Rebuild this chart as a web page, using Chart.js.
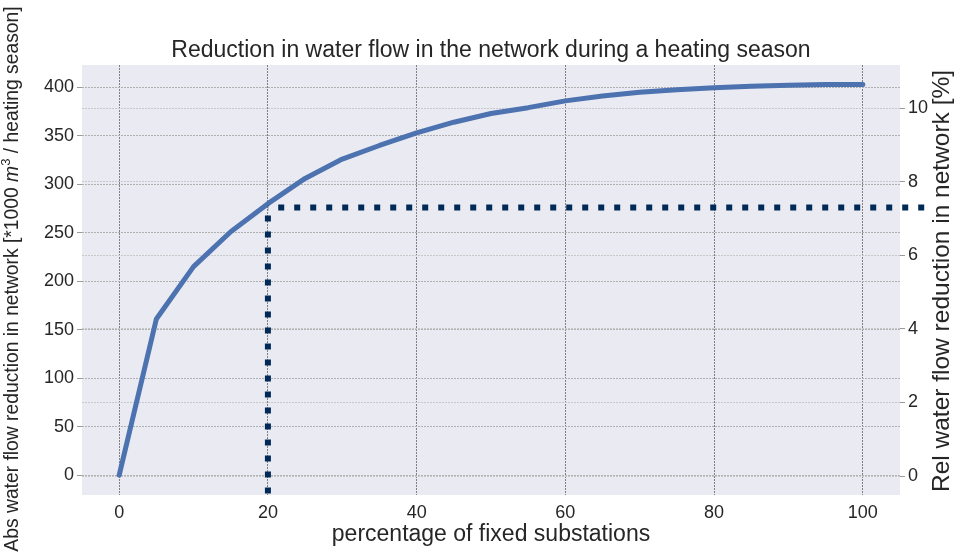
<!DOCTYPE html>
<html>
<head>
<meta charset="utf-8">
<script src="https://cdn.jsdelivr.net/npm/chart.js@4/dist/chart.umd.min.js"></script>
<style>
  html, body { margin: 0; padding: 0; background: #ffffff; }
  #wrap { width: 961px; height: 557px; position: relative; }
</style>
</head>
<body>
<div id="wrap"><canvas id="c" width="961" height="557"></canvas></div>
<script>
// Share of substations fixed (%) and the resulting absolute flow reduction
const fixedShare = [0, 5, 10, 15, 20, 25, 30, 35, 40, 45, 50, 55, 60, 65, 70, 75, 80, 85, 90, 95, 100];
const absReduction = [0, 161, 215, 251, 280, 306, 326, 340, 353, 364, 373, 379, 386, 391, 395, 397.5, 399.5, 401, 402, 403, 403];

// Marker at 20 % fixed substations, on the relative (%) axis
const markerShare = 20;
const markerRel = 7.3;
const markerLineEnd = 108.5;

// Tick values
const xTicks = [0, 20, 40, 60, 80, 100];
const yTicks = [0, 50, 100, 150, 200, 250, 300, 350, 400];
const y2Ticks = [0, 2, 4, 6, 8, 10];

const FONT = "'Liberation Sans', Arial, Helvetica, sans-serif";
const TEXT = '#262626';

const plotBackground = {
  id: 'plotBackground',
  beforeDraw(chart) {
    const { ctx, chartArea: a } = chart;
    ctx.save();
    ctx.fillStyle = '#eaeaf2';
    ctx.fillRect(a.left, a.top, a.right - a.left, a.bottom - a.top);
    ctx.restore();
  }
};

const labels = {
  id: 'labels',
  afterDraw(chart) {
    const { ctx, chartArea: a } = chart;
    ctx.save();
    ctx.fillStyle = TEXT;
    ctx.textBaseline = 'middle';
    ctx.textAlign = 'center';

    // title
    ctx.font = `23px ${FONT}`;
    ctx.fillText('Reduction in water flow in the network during a heating season', (a.left + a.right) / 2, 51);

    // x axis label
    ctx.font = `23px ${FONT}`;
    ctx.fillText('percentage of fixed substations', (a.left + a.right) / 2, 535);

    // right axis label
    ctx.save();
    ctx.translate(942, 281);
    ctx.rotate(-Math.PI / 2);
    ctx.font = `24.5px ${FONT}`;
    ctx.fillText('Rel water flow reduction in network [%]', 0, 0);
    ctx.restore();

    // left axis label, with italic m and superscript 3
    ctx.save();
    ctx.translate(13, 279);
    ctx.rotate(-Math.PI / 2);
    const parts = [
      { t: 'Abs water flow reduction in network [*1000 ', f: `19.3px ${FONT}`, dy: 0 },
      { t: 'm', f: `italic 19.3px ${FONT}`, dy: 0 },
      { t: '3', f: `13px ${FONT}`, dy: -7 },
      { t: ' / heating season]', f: `19.3px ${FONT}`, dy: 0 }
    ];
    let total = 0;
    parts.forEach(p => { ctx.font = p.f; p.w = ctx.measureText(p.t).width; total += p.w; });
    ctx.textAlign = 'left';
    let x = -total / 2;
    parts.forEach(p => { ctx.font = p.f; ctx.fillText(p.t, x, p.dy); x += p.w; });
    ctx.restore();

    ctx.restore();
  }
};

const tickFont = { family: FONT, size: 18 };

new Chart(document.getElementById('c'), {
  type: 'line',
  data: {
    datasets: [
      {
        label: 'abs',
        data: fixedShare.map((x, i) => ({ x, y: absReduction[i] })),
        yAxisID: 'y',
        borderColor: '#4c72b0',
        borderWidth: 5,
        borderCapStyle: 'round',
        borderJoinStyle: 'round',
        pointRadius: 0,
        tension: 0,
        order: 2
      },
      {
        label: 'marker-h',
        data: [{ x: markerShare, y: markerRel }, { x: markerLineEnd, y: markerRel }],
        yAxisID: 'y1',
        borderColor: '#002a56',
        borderWidth: 6,
        borderDash: [6, 10],
        borderDashOffset: 5.7,
        borderCapStyle: 'butt',
        pointRadius: 0,
        clip: false,
        order: 1
      },
      {
        label: 'marker-v',
        data: [{ x: markerShare, y: markerRel }, { x: markerShare, y: -0.52 }],
        yAxisID: 'y1',
        borderColor: '#002a56',
        borderWidth: 6,
        borderDash: [6, 10],
        borderDashOffset: 8,
        borderCapStyle: 'butt',
        pointRadius: 0,
        order: 1
      }
    ]
  },
  options: {
    responsive: false,
    animation: false,
    layout: { padding: { top: 65, left: 0, right: 0, bottom: 0 } },
    plugins: { legend: { display: false }, tooltip: { enabled: false }, title: { display: false } },
    scales: {
      x: {
        type: 'linear',
        min: -5,
        max: 105,
        afterFit(s) { s.height = 62; },
        afterBuildTicks(s) { s.ticks = xTicks.map(v => ({ value: v })); },
        ticks: { font: tickFont, color: TEXT, padding: 7, maxRotation: 0 },
        grid: { color: '#808080', lineWidth: 1, drawTicks: false },
        border: { display: false, dash: [2, 1] }
      },
      y: {
        type: 'linear',
        position: 'left',
        min: -20.5,
        max: 423,
        afterFit(s) { s.width = 82; },
        afterBuildTicks(s) { s.ticks = yTicks.map(v => ({ value: v })); },
        ticks: { font: tickFont, color: TEXT, padding: 3 },
        grid: { color: '#b0b0b0', lineWidth: 1, drawTicks: true, tickLength: 5, tickColor: '#9a9a9a' },
        border: { display: false, dash: [2, 1] }
      },
      y1: {
        type: 'linear',
        position: 'right',
        min: -0.516,
        max: 11.17,
        afterFit(s) { s.width = 61; },
        afterBuildTicks(s) { s.ticks = y2Ticks.map(v => ({ value: v })); },
        ticks: { font: tickFont, color: TEXT, padding: 3 },
        grid: { color: '#c8c8c8', lineWidth: 1, drawTicks: true, tickLength: 5, tickColor: '#9a9a9a' },
        border: { display: false, dash: [2, 1] }
      }
    }
  },
  plugins: [plotBackground, labels]
});
</script>
</body>
</html>
